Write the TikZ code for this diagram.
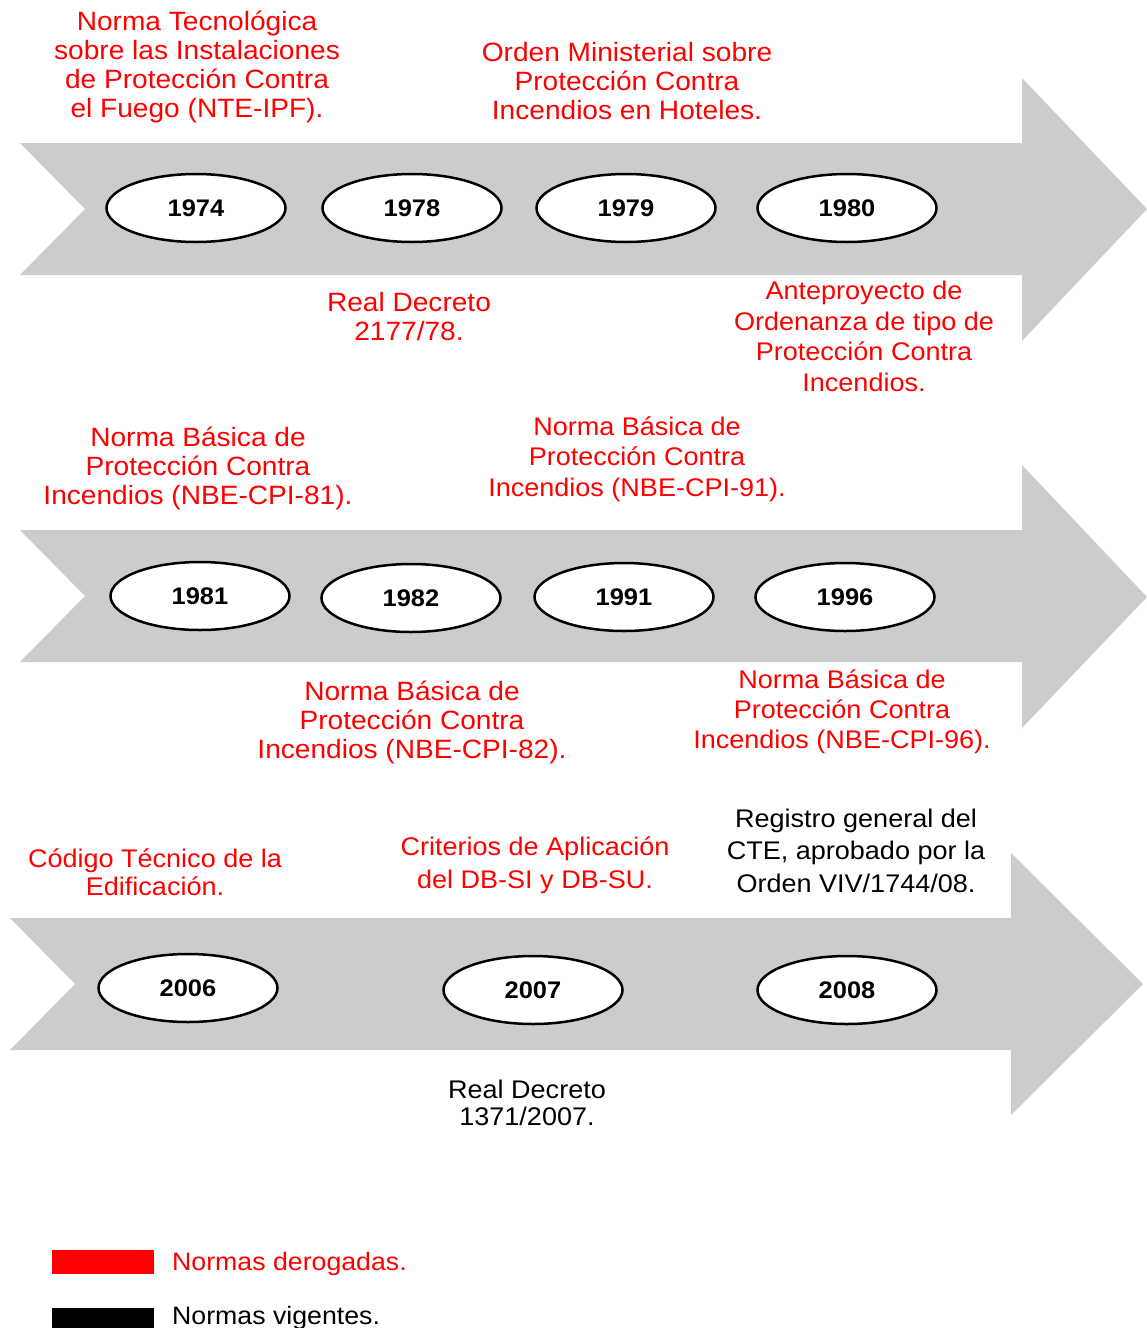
\documentclass[tikz,border=0pt]{standalone}
\usepackage{fontspec}
\setmainfont[FakeStretch=1.06]{Liberation Sans}
\usetikzlibrary{shapes.geometric}
\definecolor{arrowgray}{HTML}{CCCCCC}
\definecolor{derog}{HTML}{FF0000}
\begin{document}
\begin{tikzpicture}[x=1pt,y=-1pt,
  band/.style={fill=arrowgray,draw=none},
  year/.style={ellipse,draw=black,line width=2.5pt,fill=white,minimum width=179pt,minimum height=68pt,inner sep=0pt,font=\fontsize{24}{28}\selectfont\bfseries},
  fs/.style={font=\fontsize{25.5}{#1}\selectfont},
  fb/.style={font=\fontsize{26.5}{#1}\selectfont},
  old/.style={text=derog,align=center,inner sep=0pt},
  cur/.style={text=black,align=center,inner sep=0pt},
]
\useasboundingbox (0,0) rectangle (1147,1328);

% arrows
\fill[band] (20,143) -- (1022,143) -- (1022,78) -- (1147,209) -- (1022,341) -- (1022,275) -- (20,275) -- (85,209) -- cycle;
\fill[band] (20,530) -- (1022,530) -- (1022,465) -- (1147,597) -- (1022,728) -- (1022,662) -- (20,662) -- (85,596) -- cycle;
\fill[band] (10,918) -- (1011,918) -- (1011,853) -- (1143,984) -- (1011,1115) -- (1011,1050) -- (10,1050) -- (75,984) -- cycle;

% years
\node[year] (y1974) at (196,208) {1974};
\node[year] (y1978) at (412,208) {1978};
\node[year] (y1979) at (626,208) {1979};
\node[year] (y1980) at (847,208) {1980};
\node[year] (y1981) at (200,596) {1981};
\node[year] (y1982) at (411,598) {1982};
\node[year] (y1991) at (624,597) {1991};
\node[year] (y1996) at (845,597) {1996};
\node[year] (y2006) at (188,988) {2006};
\node[year] (y2007) at (533,990) {2007};
\node[year] (y2008) at (847,990) {2008};

% labels
\node[old,fb=29] (t1) at (197,67) {Norma Tecnológica\\sobre las Instalaciones\\de Protección Contra\\el Fuego (NTE-IPF).};
\node[old,fb=29] (t2) at (627,81.5) {Orden Ministerial sobre\\Protección Contra\\Incendios en Hoteles.};
\node[old,fb=29] (t3) at (409,317) {Real Decreto\\2177/78.};
\node[old,fs=30.5] (t4) at (864,336.5) {Anteproyecto de\\Ordenanza de tipo de\\Protección Contra\\Incendios.};
\node[old,fb=29] (t5) at (198,468.5) {Norma Básica de\\Protección Contra\\Incendios (NBE-CPI-81).};
\node[old,fs=30.5] (t6) at (637,459) {Norma Básica de\\Protección Contra\\Incendios (NBE-CPI-91).};
\node[old,fb=29] (t7) at (412,722.5) {Norma Básica de\\Protección Contra\\Incendios (NBE-CPI-82).};
\node[old,fs=30] (t8) at (842,711.5) {Norma Básica de\\Protección Contra\\Incendios (NBE-CPI-96).};
\node[old,fs=28] (t9) at (155,872) {Código Técnico de la\\Edificación.};
\node[old,fs=33] (t10) at (535,865) {Criterios de Aplicación\\del DB-SI y DB-SU.};
\node[cur,fs=32.5] (t11) at (856,850.5) {Registro general del\\CTE, aprobado por la\\Orden VIV/1744/08.};
\node[cur,fs=27] (t12) at (527,1102.5) {Real Decreto\\1371/2007.};

% legend
\fill[derog] (52,1250) rectangle (154,1274);
\node[anchor=west,text=derog,inner sep=0pt,font=\fontsize{25.2}{29}\selectfont] (l1) at (172,1264) {Normas derogadas.};
\fill[black] (52,1308) rectangle (154,1332);
\node[anchor=west,text=black,inner sep=0pt,font=\fontsize{25.2}{29}\selectfont] (l2) at (172,1318) {Normas vigentes.};
\end{tikzpicture}
\end{document}
